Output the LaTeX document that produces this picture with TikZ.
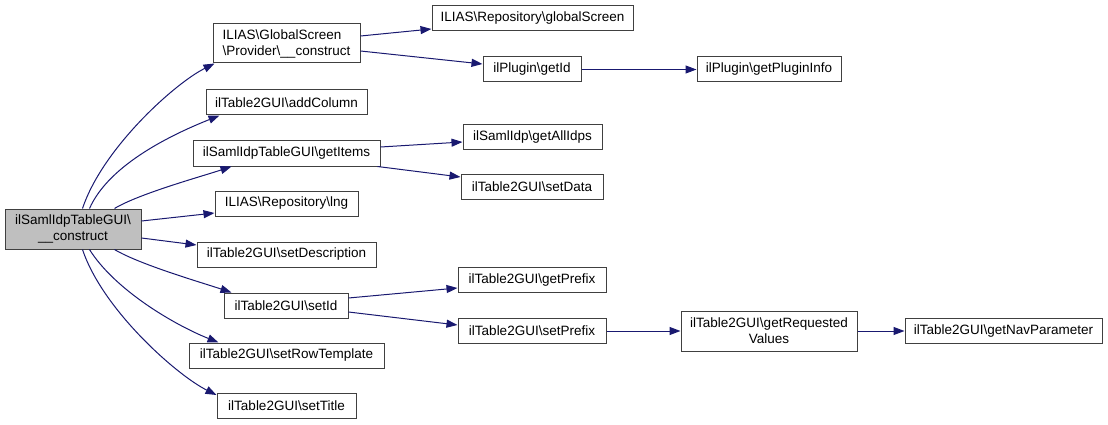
\documentclass[tikz,border=0pt]{standalone}
\usepackage{fontspec}
\setmainfont{Liberation Sans}
\usetikzlibrary{arrows.meta,calc}
\definecolor{edgecol}{HTML}{191970}
\definecolor{maingray}{HTML}{BFBFBF}
\definecolor{boxline}{HTML}{404040}
\tikzset{
  fn/.style={draw=boxline,line width=1pt,rectangle,inner sep=0pt,minimum height=25pt,
    font=\fontsize{13.5}{16}\selectfont,align=center},
  call/.style={draw=edgecol,line width=1pt,-{Triangle[length=11pt,width=8pt]}}
}
\newcommand{\bs}{\textbackslash}
\begin{document}
\begin{tikzpicture}[x=1pt,y=-1pt]
\useasboundingbox (0,0) rectangle (1108,425);
% nodes
\node[fn,fill=maingray,minimum width=136pt,minimum height=40pt] (main) at (73,229) {ilSamlIdpTableGUI\bs\\\_\_construct};
\node[fn,minimum width=147pt,minimum height=39pt,align=left] (gsp) at (286.5,43.5) {ILIAS\bs GlobalScreen\\\bs Provider\bs\_\_construct};
\node[fn,minimum width=161pt] (addcol) at (286.5,102.5) {ilTable2GUI\bs addColumn};
\node[fn,minimum width=187pt] (items) at (286.5,153.5) {ilSamlIdpTableGUI\bs getItems};
\node[fn,minimum width=143pt] (lng) at (286.5,203.5) {ILIAS\bs Repository\bs lng};
\node[fn,minimum width=179pt] (sdesc) at (286.5,254.5) {ilTable2GUI\bs setDescription};
\node[fn,minimum width=124pt] (setid) at (286,305.5) {ilTable2GUI\bs setId};
\node[fn,minimum width=195pt] (srow) at (286.5,355.5) {ilTable2GUI\bs setRowTemplate};
\node[fn,minimum width=139pt] (stitle) at (286.5,406) {ilTable2GUI\bs setTitle};
\node[fn,minimum width=201pt] (gscreen) at (532.5,18.5) {ILIAS\bs Repository\bs globalScreen};
\node[fn,minimum width=98pt] (getid) at (532,69.5) {ilPlugin\bs getId};
\node[fn,minimum width=144pt] (pinfo) at (769,69.5) {ilPlugin\bs getPluginInfo};
\node[fn,minimum width=139pt] (idps) at (532.5,137) {ilSamlIdp\bs getAllIdps};
\node[fn,minimum width=142pt] (sdata) at (532,187) {ilTable2GUI\bs setData};
\node[fn,minimum width=148pt] (gpre) at (532,280) {ilTable2GUI\bs getPrefix};
\node[fn,minimum width=148pt] (spre) at (532,331) {ilTable2GUI\bs setPrefix};
\node[fn,minimum width=176pt,minimum height=40pt] (reqv) at (769,331) {ilTable2GUI\bs getRequested\\Values};
\node[fn,minimum width=197pt] (nav) at (1003.5,331) {ilTable2GUI\bs getNavParameter};
% edges from main
\draw[call] ($(main.north west)+(78,0)$) .. controls +(20,-60) and +(-40,20) .. ($(gsp.south west)+(2,0)$);
\draw[call] ($(main.north west)+(85,0)$) .. controls +(20,-45) and +(-45,18) .. ($(addcol.south west)+(14,0)$);
\draw[call] ($(main.north west)+(110,0)$) .. controls +(25,-15) and +(-30,10) .. ($(items.south west)+(39,0)$);
\draw[call] ($(main.east)+(0,-8)$) -- ($(lng.west)+(0,9.5)$);
\draw[call] ($(main.east)+(0,9)$) -- ($(sdesc.west)+(0,-9.5)$);
\draw[call] ($(main.south west)+(110,0)$) .. controls +(25,15) and +(-30,-10) .. ($(setid.north west)+(8,0)$);
\draw[call] ($(main.south west)+(85,0)$) .. controls +(25,40) and +(-45,-18) .. ($(srow.north west)+(30,0)$);
\draw[call] ($(main.south west)+(78,0)$) .. controls +(20,60) and +(-40,-20) .. ($(stitle.west)+(0,-11)$);
% other edges
\draw[call] ($(gsp.east)+(0,-7.5)$) -- ($(gscreen.west)+(0,10.5)$);
\draw[call] ($(gsp.east)+(0,7.5)$) -- ($(getid.west)+(0,-5.5)$);
\draw[call] (getid.east) -- (pinfo.west);
\draw[call] ($(items.east)+(0,-6.5)$) -- ($(idps.west)+(0,5)$);
\draw[call] ($(items.south east)+(-3,0)$) -- ($(sdata.west)+(0,-10)$);
\draw[call] ($(setid.east)+(0,-7.5)$) -- ($(gpre.west)+(0,8)$);
\draw[call] ($(setid.east)+(0,6.5)$) -- ($(spre.west)+(0,-6)$);
\draw[call] (spre.east) -- (reqv.west);
\draw[call] (reqv.east) -- (nav.west);
\end{tikzpicture}
\end{document}
